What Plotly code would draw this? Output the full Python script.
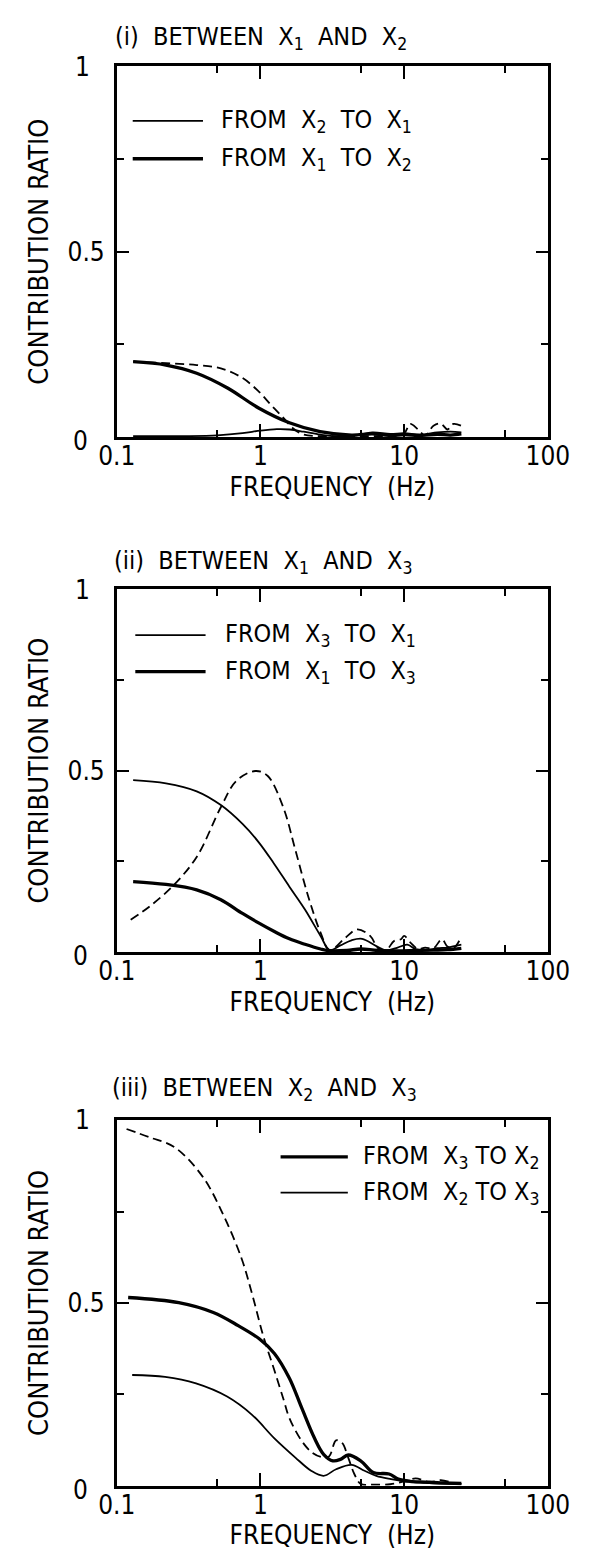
import plotly.graph_objects as go

# ---------------- data ----------------
# Panel (i): between X1 and X2
p1_thin_f = [0.13, 0.3, 0.5, 0.75, 1.0, 1.3, 1.6, 2.0, 2.6, 3.2, 4.5, 6, 8, 10, 13, 17, 21, 25]
p1_thin_v = [0.002, 0.002, 0.004, 0.01, 0.017, 0.021, 0.02, 0.014, 0.006, 0.002, 0.003, 0.012, 0.008, 0.01, 0.006, 0.012, 0.014, 0.012]
p1_thick_f = [0.13, 0.22, 0.36, 0.59, 0.97, 1.59, 2.6, 4.3, 6, 8, 10, 13, 17, 21, 25]
p1_thick_v = [0.203, 0.194, 0.172, 0.132, 0.078, 0.038, 0.014, 0.005, 0.008, 0.004, 0.006, 0.004, 0.007, 0.005, 0.008]
p1_dash_f = [0.13, 0.22, 0.36, 0.53, 0.75, 0.97, 1.18, 1.44, 1.7, 2.0, 3, 5, 8, 10, 11, 12.5, 14, 16, 18, 20, 22, 25]
p1_dash_v = [0.203, 0.199, 0.194, 0.185, 0.159, 0.123, 0.087, 0.052, 0.022, 0.006, 0.002, 0.002, 0.003, 0.01, 0.035, 0.02, 0.004, 0.03, 0.036, 0.02, 0.035, 0.03]

# Panel (ii): between X1 and X3
p2_thin_f = [0.13, 0.22, 0.36, 0.53, 0.75, 0.97, 1.24, 1.59, 2.04, 2.62, 3.03, 3.6, 4.3, 5.1, 6.4, 7.5, 9, 10.5, 12, 14, 17, 20, 25]
p2_thin_v = [0.474, 0.465, 0.443, 0.405, 0.353, 0.303, 0.244, 0.180, 0.117, 0.044, 0.005, 0.018, 0.032, 0.036, 0.016, 0.004, 0.012, 0.02, 0.008, 0.004, 0.01, 0.012, 0.02]
p2_thick_f = [0.13, 0.22, 0.36, 0.53, 0.75, 0.97, 1.24, 1.59, 2.04, 2.62, 3.03, 4, 5, 6.5, 9, 12, 16, 20, 25]
p2_thick_v = [0.194, 0.186, 0.171, 0.144, 0.106, 0.080, 0.057, 0.036, 0.021, 0.008, 0.003, 0.004, 0.008, 0.004, 0.003, 0.004, 0.005, 0.006, 0.01]
p2_dash_f = [0.125, 0.17, 0.25, 0.36, 0.53, 0.68, 0.92, 1.12, 1.44, 1.75, 2.15, 2.62, 3.03, 3.9, 4.7, 5.8, 6.6, 7.5, 8.5, 9.5, 10, 11.1, 12.5, 14, 16, 18.3, 20, 22, 24.5]
p2_dash_v = [0.089, 0.126, 0.185, 0.262, 0.399, 0.472, 0.499, 0.486, 0.399, 0.281, 0.153, 0.053, 0.005, 0.039, 0.062, 0.044, 0.01, 0.005, 0.03, 0.035, 0.044, 0.025, 0.008, 0.012, 0.01, 0.035, 0.015, 0.01, 0.035]

# Panel (iii): between X2 and X3
p3_thick_f = [0.12, 0.27, 0.47, 0.70, 0.98, 1.25, 1.59, 1.94, 2.37, 2.75, 3.19, 3.6, 4.08, 4.98, 6.1, 7.85, 9.1, 11, 14, 18, 25]
p3_thick_v = [0.515, 0.501, 0.474, 0.438, 0.402, 0.362, 0.294, 0.212, 0.131, 0.086, 0.068, 0.072, 0.084, 0.068, 0.036, 0.032, 0.018, 0.012, 0.01, 0.008, 0.006]
p3_thin_f = [0.128, 0.217, 0.356, 0.586, 0.874, 1.24, 1.75, 2.25, 2.75, 3.36, 4.3, 5.3, 6.4, 8.1, 10, 14, 18, 25]
p3_thin_v = [0.303, 0.298, 0.280, 0.244, 0.194, 0.131, 0.077, 0.041, 0.027, 0.045, 0.057, 0.041, 0.027, 0.018, 0.012, 0.008, 0.006, 0.005]
p3_dash_f = [0.117, 0.17, 0.253, 0.397, 0.559, 0.743, 0.881, 1.045, 1.24, 1.45, 1.59, 1.94, 2.3, 2.7, 3.0, 3.36, 3.7, 4.08, 4.5, 4.98, 6, 8, 10, 12, 15, 18, 22, 25]
p3_dash_v = [0.976, 0.953, 0.926, 0.845, 0.736, 0.619, 0.520, 0.41, 0.32, 0.235, 0.185, 0.122, 0.09, 0.078, 0.08, 0.124, 0.117, 0.077, 0.032, 0.005, 0.003, 0.004, 0.012, 0.02, 0.01, 0.015, 0.008, 0.005]

x_tick_vals = [0.1, 1, 10, 100]
x_tick_text = ["0.1", "1", "10", "100"]
x_minor_vals = [0.5, 5, 50]
y_tick_vals = [0.5, 1]
y_tick_text = ["0.5", "1\u00a0\u00a0"]
y_zero_label = "0"
y_minor_vals = [0.25, 0.75]

titles = [
    "(i)  BETWEEN  X<sub>1</sub>  AND  X<sub>2</sub>",
    "(ii)  BETWEEN  X<sub>1</sub>  AND  X<sub>3</sub>",
    "(iii)  BETWEEN  X<sub>2</sub>  AND  X<sub>3</sub>",
]
legend_texts = [
    ["FROM  X<sub>2</sub>  TO  X<sub>1</sub>", "FROM  X<sub>1</sub>  TO  X<sub>2</sub>"],
    ["FROM  X<sub>3</sub>  TO  X<sub>1</sub>", "FROM  X<sub>1</sub>  TO  X<sub>3</sub>"],
    ["FROM  X<sub>3</sub> TO X<sub>2</sub>", "FROM  X<sub>2</sub> TO X<sub>3</sub>"],
]

# ---------------- layout geometry ----------------
W, H = 595, 1558
FONT = "Liberation Sans Narrow, DejaVu Sans Condensed, Arial Narrow, Liberation Sans, sans-serif"
THIN, THICK = 1.8, 3.3

x_dom = [105 / W, 568 / W]
y_doms = [
    [1 - 426 / H, 1 - 52 / H],
    [1 - 946 / H, 1 - 580 / H],
    [1 - 1485 / H, 1 - 1116 / H],
]
title_pos = [(101, 23), (100, 552), (98, 1084)]
# legend geometry in axis-domain fractions: (x0, x1, text_x, y_first, y_second)
legend_geo = [
    (0.037, 0.200, 0.238, 0.853, 0.751),
    (0.043, 0.206, 0.246, 0.874, 0.773),
    (0.380, 0.536, 0.566, 0.900, 0.802),
]

panels = [
    (p1_thin_f, p1_thin_v, p1_thick_f, p1_thick_v, p1_dash_f, p1_dash_v),
    (p2_thin_f, p2_thin_v, p2_thick_f, p2_thick_v, p2_dash_f, p2_dash_v),
]

fig = go.Figure()
shapes, annotations = [], []

for i in range(3):
    xa = "x" if i == 0 else f"x{i+1}"
    ya = "y" if i == 0 else f"y{i+1}"
    if i < 2:
        thin_f, thin_v, thick_f, thick_v, dash_f, dash_v = panels[i]
        first = (thin_f, thin_v, THIN)
        second = (thick_f, thick_v, THICK)
    else:
        first = (p3_thick_f, p3_thick_v, THICK)
        second = (p3_thin_f, p3_thin_v, THIN)
        dash_f, dash_v = p3_dash_f, p3_dash_v
    names = [t.replace("<sub>", "").replace("</sub>", "") for t in legend_texts[i]]
    for (fx, fv, lw), nm in zip([first, second], names):
        fig.add_trace(go.Scatter(x=fx, y=fv, mode="lines", name=nm, showlegend=False,
                                 line=dict(color="black", width=lw, shape="spline", smoothing=1.0),
                                 xaxis=xa, yaxis=ya))
    fig.add_trace(go.Scatter(x=dash_f, y=dash_v, mode="lines", name="dashed curve", showlegend=False,
                             line=dict(color="black", width=1.8, dash="9px,5px", shape="spline", smoothing=1.0),
                             xaxis=xa, yaxis=ya))

    axis_common = dict(showline=True, linewidth=2.6, linecolor="black", mirror="ticks",
                       ticks="inside", tickcolor="black", tickwidth=2, showgrid=False, zeroline=False,
                       tickfont=dict(family=FONT, size=26, color="black"))
    xkey = "xaxis" if i == 0 else f"xaxis{i+1}"
    ykey = "yaxis" if i == 0 else f"yaxis{i+1}"
    fig.update_layout({
        xkey: dict(type="log", range=[-1, 2], domain=x_dom, anchor=ya,
                   tickmode="array", tickvals=x_tick_vals, ticktext=x_tick_text, ticklen=13,
                   ticklabelstandoff=-6,
                   minor=dict(tickmode="array", tickvals=x_minor_vals, ticks="inside", ticklen=7,
                              tickwidth=2, tickcolor="black", showgrid=False),
                   title=dict(text="FREQUENCY  (Hz)", font=dict(family=FONT, size=26, color="black"), standoff=8),
                   **axis_common),
        ykey: dict(range=[0, 1], domain=y_doms[i], anchor=xa,
                   tickmode="array", tickvals=y_tick_vals, ticktext=y_tick_text, ticklen=12,
                   ticklabelstandoff=4,
                   minor=dict(tickmode="array", tickvals=y_minor_vals, ticks="inside", ticklen=7,
                              tickwidth=2, tickcolor="black", showgrid=False),
                   title=dict(text="CONTRIBUTION RATIO", font=dict(family=FONT, size=27, color="black"), standoff=12),
                   **axis_common),
    })

    # "0" label of the y axis, set a little to the lower left as in the original
    annotations.append(dict(text=y_zero_label, x=-0.085, y=-0.012, xref=f"{xa} domain", yref=f"{ya} domain",
                            xanchor="center", yanchor="middle", showarrow=False,
                            font=dict(family=FONT, size=26, color="black")))
    # panel title
    tx, ty = title_pos[i]
    annotations.append(dict(text=titles[i], x=tx / W, y=1 - ty / H, xref="paper", yref="paper",
                            xanchor="left", yanchor="middle", showarrow=False,
                            font=dict(family=FONT, size=25, color="black")))
    # legend swatches + labels
    x0, x1, txx, yf, ys = legend_geo[i]
    widths = [first[2], second[2]]
    for yy, lw, txt in zip([yf, ys], widths, legend_texts[i]):
        shapes.append(dict(type="line", xref=f"{xa} domain", yref=f"{ya} domain",
                           x0=x0, x1=x1, y0=yy, y1=yy, line=dict(color="black", width=lw)))
        annotations.append(dict(text=txt, x=txx, y=yy, xref=f"{xa} domain", yref=f"{ya} domain",
                                xanchor="left", yanchor="middle", showarrow=False,
                                font=dict(family=FONT, size=25, color="black")))

fig.update_layout(width=W, height=H, margin=dict(l=0, r=0, t=0, b=0),
                  paper_bgcolor="white", plot_bgcolor="white",
                  font=dict(family=FONT, color="black"),
                  shapes=shapes, annotations=annotations, showlegend=False)

fig.write_html("out.html")
